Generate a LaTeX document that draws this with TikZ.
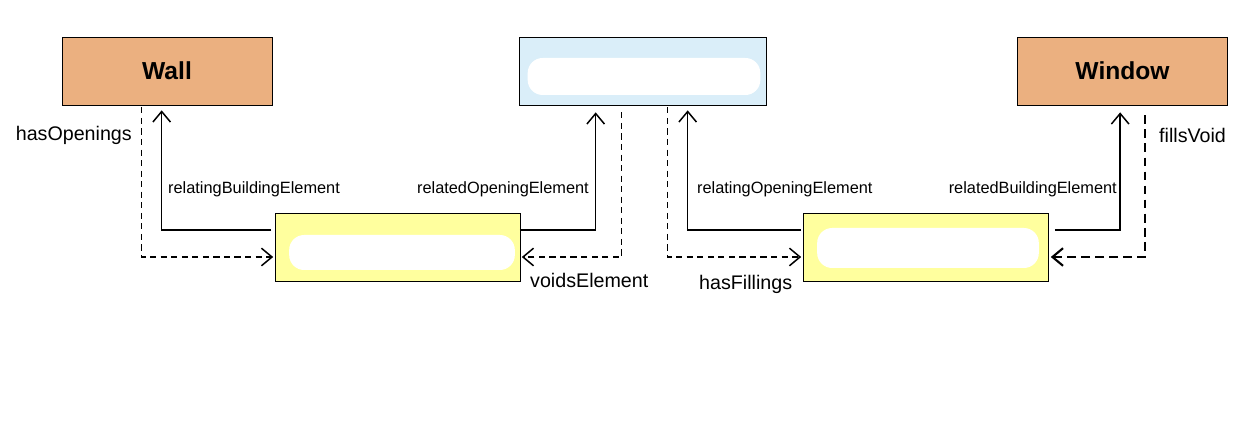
\documentclass[tikz,border=0pt]{standalone}
\usepackage{fontspec}
\setmainfont{Liberation Sans}
\usepackage{xcolor}
\usetikzlibrary{arrows.meta,calc}
\definecolor{elemcolor}{RGB}{235,176,128}
\definecolor{opencolor}{RGB}{218,238,249}
\definecolor{relcolor}{RGB}{255,255,158}
\tikzset{
  elembox/.style={draw=black, fill=elemcolor, minimum width=4.2cm, minimum height=1.36cm, font=\fontsize{14}{16}\selectfont\bfseries},
  openbox/.style={draw=black, fill=opencolor, minimum width=4.94cm, minimum height=1.36cm},
  relbox/.style={draw=black, fill=relcolor, minimum width=4.9cm, minimum height=1.36cm},
  blob/.style={fill=white, rounded corners=0.3cm},
  relline/.style={black, line width=0.85pt, -{Straight Barb[length=6pt,width=10pt]}},
  invline/.style={black, line width=0.85pt, dash pattern=on 3.5pt off 2.5pt, -{Straight Barb[length=6pt,width=10pt]}},
  biglabel/.style={font=\fontsize{11.2}{13}\selectfont},
  smalllabel/.style={font=\fontsize{9.3}{11}\selectfont}
}

\begin{document}
\begin{tikzpicture}[x=0.02cm, y=-0.02cm]
    \useasboundingbox (0,0) rectangle (1244,445);

    % Boxes
    \node[elembox] (wall) at (167,71) {Wall};
    \node[openbox] (opening) at (642.5,71) {};
    \node[elembox] (window) at (1122.5,71) {Window};
    \node[relbox] (voidrel) at (398,247) {};
    \node[relbox] (fillrel) at (926,247) {};

    \fill[blob] ($(opening.west)+(9,-13)$) rectangle ($(opening.east)+(-6,24)$);
    \fill[blob] ($(voidrel.west)+(14,-12)$) rectangle ($(voidrel.east)+(-6,23)$);
    \fill[blob] ($(fillrel.west)+(14,-19)$) rectangle ($(fillrel.east)+(-10,21)$);

    % Links
    \draw[invline] ($(wall.south west)+(80,2)$) |- ($(voidrel.west)+(-2,10)$);
    \draw[relline] ($(voidrel.west)+(-4,-17)$) -| ($(wall.south west)+(100,5)$);
    \draw[relline] ($(voidrel.east)+(-1,-17)$) -| ($(opening.south west)+(77,7)$);
    \draw[invline] ($(opening.south west)+(103,7)$) |- ($(voidrel.east)+(1,10)$);

    \draw[invline] ($(opening.south west)+(149,2)$) |- ($(fillrel.west)+(-2,10)$);
    \draw[relline] ($(fillrel.west)+(-2,-17)$) -| ($(opening.south west)+(169,5)$);
    \draw[relline] ($(fillrel.east)+(6,-17)$) -| ($(window.south west)+(103,7)$);
    \draw[invline, line width=1.2pt, dash pattern=on 5pt off 3pt] ($(window.south west)+(128,10)$) |- ($(fillrel.east)+(2,10)$);

    % Labels
    \node[biglabel, anchor=east] (hasopen) at (138,135) {hasOpenings};
    \node[smalllabel, anchor=west] (relbuild) at (162,189) {relatingBuildingElement};
    \node[smalllabel, anchor=east] (relopen) at (595,189) {relatedOpeningElement};
    \node[biglabel, anchor=west] (voids) at (524,280) {voidsElement};
    \node[smalllabel, anchor=west] (relatingopen) at (691,189) {relatingOpeningElement};
    \node[smalllabel, anchor=east] (relatedbuild) at (1123,189) {relatedBuildingElement};
    \node[biglabel, anchor=west] (hasfill) at (693,284) {hasFillings};
    \node[biglabel, anchor=west] (fills) at (1153,135) {fillsVoid};
\end{tikzpicture}
\end{document}
